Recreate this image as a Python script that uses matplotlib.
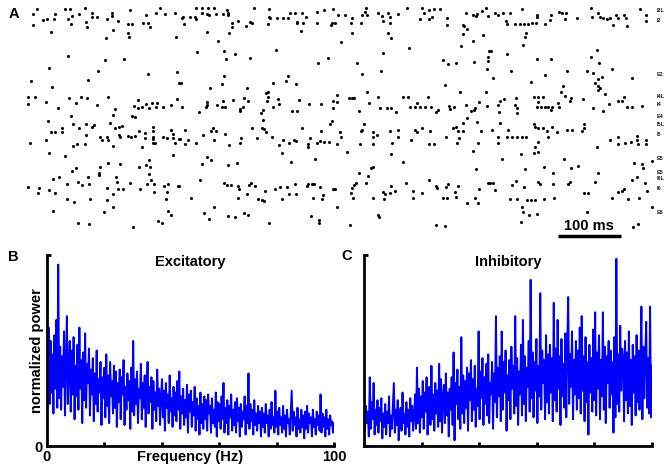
import numpy as np
import matplotlib
matplotlib.use('Agg')
import matplotlib.pyplot as plt

plt.rcParams['font.family'] = ['Liberation Sans', 'DejaVu Sans']
plt.rcParams['font.weight'] = 'bold'

W, H = 667, 470

spikes_0_250 = [
    (14, 9), (8, 14), (59, 9), (67, 9), (91, 8), (43, 14), (70, 16), (82, 14), (102, 13), (102, 17),
    (110, 17), (134, 13), (134, 16), (126, 19), (144, 21), (163, 10), (189, 15), (205, 13), (211, 8),
    (219, 14), (235, 13), (24, 20), (30, 19), (42, 19), (64, 19), (8, 25), (69, 24), (93, 22), (94, 27),
    (160, 24), (166, 24), (184, 23), (192, 23), (195, 27), (37, 32), (136, 30), (160, 33), (162, 37),
    (125, 38), (237, 37), (64, 56), (123, 60), (154, 59), (34, 68), (112, 71), (192, 74), (238, 72),
    (5, 81), (38, 87), (96, 80), (242, 83), (0, 97), (11, 97), (0, 104), (29, 102), (48, 108), (66, 98),
    (77, 103), (85, 97), (94, 98), (110, 105), (128, 97), (139, 109), (136, 115), (166, 116), (171, 117),
    (176, 100), (170, 106), (176, 108), (182, 107), (189, 104), (194, 108), (198, 103), (205, 107),
    (206, 103), (216, 107), (229, 105), (238, 99), (69, 116), (32, 121), (72, 124), (82, 128), (93, 124),
    (102, 127), (106, 125), (131, 123), (139, 128), (146, 127), (150, 126), (37, 132), (43, 132),
    (54, 128), (54, 132), (93, 135), (115, 137), (118, 140), (126, 137), (128, 140), (146, 135),
    (147, 137), (160, 136), (165, 137), (171, 136), (178, 131), (187, 133), (187, 138), (200, 127),
    (200, 131), (200, 137), (200, 139), (200, 143), (203, 143), (216, 137), (222, 138), (229, 130),
    (232, 134), (232, 138), (242, 139), (235, 143), (3, 143), (29, 140), (72, 146), (78, 144), (91, 144),
    (136, 146), (182, 147), (34, 153), (59, 156), (232, 155), (115, 167), (128, 163), (147, 164),
    (178, 167), (189, 165), (194, 160), (195, 167), (194, 174), (70, 171), (77, 168), (50, 177),
    (40, 179), (96, 177), (114, 173), (114, 175), (141, 177), (142, 182), (197, 180), (62, 184),
    (80, 182), (86, 185), (98, 184), (0, 187), (18, 188), (16, 193), (34, 190), (43, 193), (126, 188),
    (144, 189), (152, 189), (136, 194), (163, 183), (179, 189), (190, 184), (202, 184), (202, 192),
    (218, 186), (224, 184), (222, 192), (240, 186), (62, 199), (74, 202), (99, 199), (126, 200),
    (136, 207), (221, 199), (40, 211), (122, 212), (224, 211), (229, 215), (208, 221), (214, 223),
    (80, 223), (98, 224), (168, 227),
]

spikes_250_490 = [
    (269, 8), (278, 8), (288, 8), (298, 8), (318, 10), (362, 8), (386, 9), (246, 18), (248, 17),
    (259, 17), (267, 17), (269, 19), (278, 13), (286, 14), (290, 15), (301, 14), (312, 14), (320, 13),
    (320, 15), (326, 23), (326, 27), (336, 21), (349, 26), (355, 22), (358, 23), (386, 17), (387, 18),
    (384, 24), (398, 18), (408, 18), (416, 18), (419, 13), (427, 13), (438, 13), (445, 17), (430, 22),
    (430, 23), (440, 23), (437, 31), (462, 12), (474, 10), (488, 9), (462, 23), (485, 25), (486, 23),
    (250, 24), (286, 32), (322, 33), (304, 41), (270, 52), (314, 51), (331, 54), (317, 59), (355, 58),
    (397, 50), (464, 63), (480, 58), (314, 76), (310, 84), (245, 83), (291, 88), (350, 88), (392, 83),
    (413, 81), (416, 76), (429, 84), (384, 92), (381, 93), (384, 97), (382, 101), (246, 107), (274, 112),
    (286, 102), (286, 105), (285, 107), (302, 105), (310, 107), (315, 107), (312, 101), (328, 100),
    (339, 109), (339, 111), (344, 107), (346, 98), (352, 101), (376, 110), (373, 113), (376, 120),
    (392, 107), (400, 99), (402, 104), (422, 111), (430, 111), (434, 100), (450, 104), (469, 104),
    (488, 101), (488, 108), (486, 121), (483, 124), (243, 139), (251, 130), (256, 140), (251, 144),
    (269, 143), (280, 135), (293, 131), (296, 128), (301, 131), (298, 140), (315, 134), (322, 145),
    (339, 143), (341, 138), (358, 128), (366, 138), (374, 128), (378, 129), (381, 132), (390, 137),
    (402, 145), (408, 140), (418, 143), (426, 140), (429, 141), (438, 128), (448, 144), (448, 147),
    (451, 138), (462, 143), (467, 141), (474, 142), (482, 142), (469, 131), (406, 153), (286, 157),
    (293, 160), (278, 164), (320, 165), (334, 163), (421, 162), (459, 159), (242, 186), (275, 180),
    (314, 183), (318, 185), (325, 185), (336, 186), (338, 189), (354, 185), (357, 183), (363, 186),
    (379, 191), (395, 189), (403, 187), (414, 187), (427, 184), (446, 186), (448, 184), (454, 184),
    (458, 184), (467, 187), (488, 189), (261, 198), (336, 198), (350, 194), (368, 199), (374, 200),
    (378, 201), (406, 199), (418, 194), (429, 194), (456, 198), (472, 195), (470, 199), (298, 207),
    (282, 213), (290, 219), (320, 216), (331, 217), (346, 213), (352, 215), (386, 223), (453, 216),
    (466, 220), (466, 223),
]

spikes_490_740 = [
    (541, 8), (606, 8), (630, 8), (650, 9), (659, 9), (733, 8), (496, 15), (507, 15), (518, 18),
    (534, 15), (539, 12), (542, 15), (560, 13), (566, 16), (576, 13), (579, 17), (568, 21), (592, 14),
    (627, 19), (634, 13), (642, 10), (642, 19), (646, 17), (670, 18), (670, 25), (701, 13), (712, 15),
    (717, 16), (718, 14), (726, 11), (736, 16), (491, 23), (517, 23), (533, 23), (579, 23), (518, 33),
    (576, 33), (581, 38), (696, 25), (698, 26), (702, 29), (696, 34), (728, 35), (712, 41), (693, 46),
    (501, 42), (610, 48), (568, 53), (738, 51), (526, 63), (565, 71), (534, 74), (664, 60), (672, 64),
    (685, 63), (714, 62), (736, 57), (736, 61), (734, 69), (667, 85), (691, 92), (733, 92), (494, 95),
    (494, 102), (514, 98), (518, 98), (522, 98), (530, 111), (542, 92), (546, 103), (560, 97),
    (563, 108), (574, 108), (581, 108), (589, 112), (600, 97), (608, 97), (611, 107), (619, 107),
    (622, 103), (627, 107), (635, 107), (640, 97), (645, 107), (653, 112), (656, 110), (674, 106),
    (675, 109), (682, 107), (701, 105), (709, 111), (714, 110), (715, 108), (722, 102), (734, 106),
    (538, 124), (499, 132), (501, 137), (494, 144), (531, 144), (533, 131), (534, 130), (552, 132),
    (552, 137), (558, 135), (552, 144), (579, 131), (582, 143), (592, 130), (592, 137), (613, 140),
    (619, 130), (622, 132), (630, 128), (643, 131), (642, 144), (650, 144), (669, 137), (680, 128),
    (685, 127), (688, 131), (696, 131), (690, 138), (686, 143), (696, 123), (702, 118), (718, 122),
    (725, 131), (720, 143), (712, 151), (510, 152), (581, 154), (600, 162), (717, 169), (552, 167),
    (549, 168), (544, 176), (530, 173), (541, 183), (525, 183), (522, 185), (518, 188), (517, 193),
    (520, 198), (491, 189), (552, 198), (568, 192), (571, 194), (570, 199), (579, 193), (581, 186),
    (587, 191), (605, 183), (616, 191), (616, 198), (630, 193), (642, 180), (653, 186), (654, 188),
    (664, 198), (670, 198), (669, 187), (672, 184), (683, 192), (685, 197), (688, 186), (702, 203),
    (715, 198), (722, 189), (720, 203), (736, 183), (494, 207), (560, 215), (562, 217), (515, 225),
    (653, 225), (667, 226),
]

spikes_740_1000 = [
    (747, 13), (752, 15), (760, 13), (771, 13), (790, 9), (814, 15), (814, 17), (837, 15), (850, 12),
    (854, 13), (861, 13), (859, 19), (878, 18), (901, 8), (902, 17), (912, 13), (915, 17), (920, 18),
    (926, 19), (931, 18), (936, 25), (941, 15), (944, 18), (954, 15), (957, 18), (958, 26), (979, 9),
    (989, 15), (989, 21), (765, 21), (766, 24), (779, 24), (787, 24), (794, 24), (800, 24), (806, 23),
    (813, 23), (827, 24), (835, 20), (797, 33), (795, 37), (792, 45), (741, 51), (766, 54), (814, 59),
    (837, 59), (910, 50), (901, 57), (914, 63), (773, 71), (827, 75), (862, 71), (894, 71), (904, 73),
    (934, 69), (744, 78), (805, 82), (856, 86), (918, 77), (912, 79), (907, 83), (912, 86), (915, 88),
    (912, 90), (923, 94), (966, 78), (853, 92), (859, 96), (869, 98), (867, 101), (888, 99), (755, 101),
    (752, 105), (762, 99), (781, 98), (779, 105), (782, 108), (782, 113), (754, 112), (810, 97),
    (816, 97), (824, 97), (816, 102), (814, 107), (821, 107), (827, 107), (832, 107), (838, 107),
    (837, 110), (848, 103), (850, 107), (904, 108), (920, 111), (930, 104), (944, 101), (950, 101),
    (954, 97), (958, 107), (966, 107), (982, 106), (755, 123), (742, 130), (768, 130), (752, 137),
    (752, 143), (766, 137), (774, 137), (782, 137), (790, 137), (797, 137), (810, 124), (811, 127),
    (816, 128), (824, 128), (830, 131), (832, 137), (838, 127), (846, 132), (862, 130), (870, 130),
    (886, 131), (890, 128), (890, 124), (816, 142), (811, 147), (810, 153), (816, 152), (789, 154),
    (910, 147), (931, 140), (944, 144), (944, 137), (955, 143), (965, 142), (974, 136), (974, 140),
    (976, 144), (989, 140), (989, 144), (758, 159), (795, 169), (826, 167), (840, 173), (858, 159),
    (869, 168), (880, 166), (912, 173), (970, 163), (982, 164), (984, 168), (998, 161), (974, 177),
    (966, 180), (739, 183), (744, 183), (747, 190), (774, 185), (781, 181), (794, 187), (816, 182),
    (819, 184), (840, 184), (864, 184), (867, 182), (907, 182), (890, 193), (896, 193), (944, 192),
    (950, 191), (954, 189), (987, 183), (990, 191), (771, 199), (782, 199), (798, 200), (805, 200),
    (811, 200), (826, 199), (842, 198), (934, 198), (960, 199), (978, 198), (998, 207), (790, 207),
    (792, 212), (802, 215), (814, 214), (789, 222), (894, 212), (968, 227), (976, 224),
]

layer_names = ['I2L', 'I2', 'E2', 'I4L', 'I4', 'E4', 'I5L', 'I5', 'E5', 'E5', 'I6L', 'I6', 'E6']
layer_rows = [10, 20, 75, 97, 104, 117, 124, 135, 159, 173, 179, 188, 212]

# normalized power spectra, 0-100 Hz
power_exc = [
    0.73, 0.35, 0.62, 0.22, 0.55, 0.28, 0.48, 0.17, 0.58, 0.30, 0.66, 0.20, 0.95, 0.25, 0.52,
    0.19, 0.47, 0.31, 0.60, 0.16, 0.44, 0.68, 0.22, 0.40, 0.55, 0.18, 0.50, 0.27, 0.57, 0.14,
    0.42, 0.26, 0.53, 0.19, 0.62, 0.30, 0.45, 0.12, 0.49, 0.24, 0.59, 0.20, 0.43, 0.33, 0.51,
    0.16, 0.40, 0.27, 0.46, 0.13, 0.38, 0.22, 0.50, 0.18, 0.35, 0.28, 0.44, 0.11, 0.36, 0.25,
    0.41, 0.15, 0.48, 0.21, 0.37, 0.12, 0.44, 0.26, 0.34, 0.17, 0.42, 0.20, 0.39, 0.10, 0.33,
    0.23, 0.40, 0.14, 0.36, 0.27, 0.45, 0.11, 0.31, 0.19, 0.38, 0.24, 0.34, 0.09, 0.41, 0.18,
    0.55, 0.16, 0.35, 0.22, 0.39, 0.12, 0.30, 0.25, 0.43, 0.14, 0.33, 0.20, 0.37, 0.10, 0.29,
    0.44, 0.17, 0.31, 0.23, 0.36, 0.09, 0.34, 0.19, 0.28, 0.13, 0.40, 0.21, 0.30, 0.11, 0.26,
    0.35, 0.15, 0.29, 0.08, 0.33, 0.20, 0.27, 0.12, 0.37, 0.18, 0.25, 0.10, 0.31, 0.16, 0.28,
    0.13, 0.34, 0.19, 0.39, 0.09, 0.26, 0.17, 0.30, 0.11, 0.24, 0.15, 0.32, 0.07, 0.27, 0.18,
    0.29, 0.10, 0.23, 0.16, 0.31, 0.08, 0.25, 0.14, 0.21, 0.06, 0.28, 0.12, 0.22, 0.09, 0.26,
    0.14, 0.24, 0.08, 0.27, 0.17, 0.21, 0.07, 0.25, 0.12, 0.19, 0.10, 0.28, 0.05, 0.23, 0.13,
    0.22, 0.09, 0.26, 0.14, 0.33, 0.07, 0.20, 0.12, 0.24, 0.06, 0.21, 0.15, 0.27, 0.08, 0.19,
    0.11, 0.23, 0.07, 0.25, 0.13, 0.20, 0.05, 0.22, 0.10, 0.18, 0.14, 0.26, 0.06, 0.21, 0.12,
    0.38, 0.09, 0.22, 0.13, 0.19, 0.06, 0.24, 0.11, 0.17, 0.08, 0.21, 0.12, 0.18, 0.05, 0.20,
    0.10, 0.17, 0.07, 0.22, 0.12, 0.16, 0.05, 0.19, 0.09, 0.23, 0.11, 0.15, 0.07, 0.29, 0.10,
    0.18, 0.06, 0.20, 0.11, 0.15, 0.07, 0.21, 0.09, 0.16, 0.05, 0.19, 0.12, 0.14, 0.06, 0.17,
    0.29, 0.08, 0.18, 0.11, 0.15, 0.05, 0.20, 0.09, 0.14, 0.07, 0.19, 0.10, 0.16, 0.04, 0.18,
    0.09, 0.21, 0.07, 0.17, 0.12, 0.15, 0.05, 0.19, 0.10, 0.14, 0.06, 0.18, 0.11, 0.16, 0.08,
    0.27, 0.07, 0.17, 0.10, 0.15, 0.05, 0.19, 0.09, 0.14, 0.06, 0.16, 0.11, 0.13, 0.07, 0.12,
]

power_inh = [
    0.26, 0.08, 0.21, 0.12, 0.18, 0.05, 0.36, 0.09, 0.23, 0.14, 0.33, 0.06, 0.19, 0.11, 0.24,
    0.07, 0.20, 0.13, 0.25, 0.04, 0.17, 0.10, 0.22, 0.06, 0.18, 0.12, 0.26, 0.05, 0.16, 0.09,
    0.21, 0.33, 0.07, 0.19, 0.11, 0.24, 0.03, 0.15, 0.20, 0.08, 0.28, 0.12, 0.17, 0.06, 0.23,
    0.10, 0.19, 0.05, 0.25, 0.13, 0.21, 0.08, 0.16, 0.27, 0.09, 0.41, 0.12, 0.30, 0.07, 0.26,
    0.15, 0.34, 0.09, 0.28, 0.18, 0.36, 0.06, 0.24, 0.31, 0.11, 0.42, 0.14, 0.27, 0.08, 0.33,
    0.17, 0.29, 0.10, 0.43, 0.13, 0.35, 0.07, 0.26, 0.32, 0.12, 0.38, 0.16, 0.28, 0.05, 0.30,
    0.19, 0.36, 0.11, 0.49, 0.03, 0.33, 0.22, 0.40, 0.14, 0.31, 0.09, 0.57, 0.17, 0.37, 0.12,
    0.34, 0.20, 0.41, 0.08, 0.38, 0.24, 0.45, 0.13, 0.35, 0.19, 0.42, 0.10, 0.30, 0.21, 0.60,
    0.14, 0.39, 0.25, 0.46, 0.11, 0.36, 0.22, 0.43, 0.16, 0.48, 0.12, 0.33, 0.27, 0.44, 0.09,
    0.38, 0.23, 0.68, 0.15, 0.41, 0.26, 0.47, 0.13, 0.60, 0.19, 0.44, 0.28, 0.50, 0.08, 0.37,
    0.24, 0.45, 0.14, 0.52, 0.30, 0.42, 0.17, 0.68, 0.21, 0.46, 0.11, 0.39, 0.27, 0.53, 0.16,
    0.66, 0.22, 0.47, 0.13, 0.41, 0.31, 0.55, 0.18, 0.87, 0.25, 0.49, 0.15, 0.44, 0.29, 0.56,
    0.12, 0.42, 0.26, 0.80, 0.19, 0.50, 0.33, 0.45, 0.14, 0.58, 0.23, 0.48, 0.17, 0.53, 0.28,
    0.46, 0.13, 0.75, 0.24, 0.51, 0.18, 0.66, 0.30, 0.47, 0.11, 0.56, 0.26, 0.43, 0.20, 0.59,
    0.15, 0.52, 0.78, 0.22, 0.48, 0.31, 0.60, 0.14, 0.45, 0.27, 0.55, 0.19, 0.50, 0.25, 0.62,
    0.17, 0.68, 0.29, 0.47, 0.13, 0.57, 0.23, 0.44, 0.06, 0.53, 0.28, 0.46, 0.18, 0.61, 0.24,
    0.70, 0.16, 0.49, 0.30, 0.58, 0.14, 0.45, 0.26, 0.70, 0.19, 0.52, 0.12, 0.47, 0.33, 0.55,
    0.20, 0.50, 0.27, 0.44, 0.07, 0.57, 0.15, 0.98, 0.22, 0.48, 0.18, 0.63, 0.29, 0.51, 0.46,
    0.13, 0.55, 0.24, 0.49, 0.17, 0.60, 0.21, 0.45, 0.11, 0.53, 0.28, 0.47, 0.16, 0.58, 0.23,
    0.50, 0.19, 0.44, 0.73, 0.14, 0.52, 0.25, 0.48, 0.65, 0.20, 0.46, 0.17, 0.73, 0.15, 0.42,
]

freq_ticks = [0, 20, 40, 60, 80, 100]

fig = plt.figure(figsize=(W / 100, H / 100), dpi=100)

# --- A: raster ---
ax_r = fig.add_axes([28 / W, 1 - 240 / H, 625 / W, 240 / H])
spikes = spikes_0_250 + spikes_250_490 + spikes_490_740 + spikes_740_1000
t_ms = [s[0] for s in spikes]
rows = [s[1] for s in spikes]
ax_r.plot(t_ms, rows, 'o', color='black', ms=2.2, mew=0, clip_on=False)
ax_r.set_xlim(0, 1000)
ax_r.set_ylim(240, 0)
ax_r.axis('off')
ax_r.plot([848, 948], [236, 236], color='black', lw=2.5, solid_capstyle='butt', clip_on=False)
ax_r.text(898, 226, '100 ms', ha='center', va='center', fontsize=10.5)
for name, row in zip(layer_names, layer_rows):
    ax_r.text(1006, row, name, fontsize=4, va='center', ha='left', color='#222222', clip_on=False)


def spectrum(rect, power, title):
    ax = fig.add_axes(rect)
    freqs = np.linspace(0, 100, len(power))
    ax.plot(freqs, power, color='blue', lw=1.4)
    ax.set_xlim(0, 100)
    ax.set_ylim(0, 1)
    for s in ['top', 'right']:
        ax.spines[s].set_visible(False)
    for s in ['left', 'bottom']:
        ax.spines[s].set_linewidth(2)
        ax.spines[s].set_zorder(3)
    ax.set_xticks(freq_ticks)
    ax.set_yticks([0, 1])
    ax.tick_params(direction='in', length=3, width=2, labelsize=10.5, pad=3)
    ax.text(0.5, 0.963, title, transform=ax.transAxes, ha='center', va='center', fontsize=10.5)
    return ax


# --- B: excitatory ---
ax_b = spectrum([46.7 / W, 1 - 446 / H, 287.3 / W, 191 / H], power_exc, 'Excitatory')
ax_b.set_xticklabels(['0', '', '', '', '', '100'])
ax_b.set_yticklabels(['0', ''])
fig.text(190 / W, 1 - 457 / H, 'Frequency (Hz)', ha='center', va='center', fontsize=10.5)
fig.text(37 / W, 1 - 351 / H, 'normalized power', ha='center', va='center', rotation=90, fontsize=10.5)

# --- C: inhibitory ---
ax_c = spectrum([364 / W, 1 - 446 / H, 288 / W, 191 / H], power_inh, 'Inhibitory')
ax_c.set_xticklabels([])
ax_c.set_yticklabels([])

fig.text(14 / W, 1 - 14 / H, 'A', ha='center', va='center', fontsize=10.5)
fig.text(13 / W, 1 - 257 / H, 'B', ha='center', va='center', fontsize=10.5)
fig.text(347 / W, 1 - 256 / H, 'C', ha='center', va='center', fontsize=10.5)

fig.savefig('out.png', dpi=100)
